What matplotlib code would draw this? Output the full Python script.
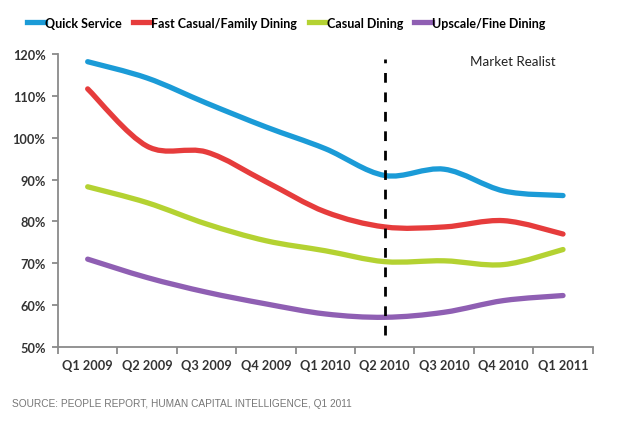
import numpy as np
import matplotlib.pyplot as plt
from matplotlib.path import Path
from matplotlib.patches import PathPatch
from matplotlib.lines import Line2D

quarters = ['Q1 2009', 'Q2 2009', 'Q3 2009', 'Q4 2009', 'Q1 2010',
            'Q2 2010', 'Q3 2010', 'Q4 2010', 'Q1 2011']
quick = [118.2, 114.3, 108.3, 102.6, 97.4, 91.0, 92.5, 87.3, 86.2]
fast = [111.7, 98.0, 96.6, 89.5, 82.3, 78.7, 78.7, 80.2, 77.0]
casual = [88.3, 84.5, 79.4, 75.4, 73.0, 70.4, 70.6, 69.7, 73.3]
upscale = [71.0, 66.6, 63.1, 60.3, 57.9, 57.1, 58.3, 61.1, 62.3]
names = ['Quick Service', 'Fast Casual/Family Dining', 'Casual Dining', 'Upscale/Fine Dining']
colors = ['#1b9bd7', '#e63c3c', '#b4d232', '#8f5fb3']
y_ticks = [50, 60, 70, 80, 90, 100, 110, 120]


def smooth_path(x, y):
    # Excel-like smoothed line: Catmull-Rom turned into cubic Bezier segments
    pts = np.column_stack([x, y]).astype(float)
    verts = [pts[0]]
    codes = [Path.MOVETO]
    n = len(pts)
    for i in range(n - 1):
        p0 = pts[i - 1] if i > 0 else pts[i]
        p1 = pts[i]
        p2 = pts[i + 1]
        p3 = pts[i + 2] if i + 2 < n else pts[i + 1]
        c1 = p1 + (p2 - p0) / 6.0
        c2 = p2 - (p3 - p1) / 6.0
        verts += [c1, c2, p2]
        codes += [Path.CURVE4] * 3
    return Path(verts, codes)


fig = plt.figure(figsize=(6.2, 4.31), dpi=100)
ax = fig.add_axes([0.0935, 0.1926, 0.8625, 0.6794])

x = np.arange(len(quarters))
for vals, c in zip([quick, fast, casual, upscale], colors):
    p = PathPatch(smooth_path(x, vals), facecolor='none', edgecolor=c,
                  lw=3.8, capstyle='round', joinstyle='round')
    ax.add_patch(p)

ax.axvline(5, ymin=0.04, ymax=0.985, color='black', lw=2, ls=(0, (3.5, 3.5)))

ax.set_xlim(-0.5, 8.5)
ax.set_ylim(50, 120)
ax.set_yticks(y_ticks)
ax.set_yticklabels(['%d%%' % v for v in y_ticks])
ax.set_xticks(x)
ax.set_xticklabels(quarters)
ax.set_xticks(np.arange(-0.5, 9, 1), minor=True)

for s in ['top', 'right']:
    ax.spines[s].set_visible(False)
for s in ['left', 'bottom']:
    ax.spines[s].set_color('#8a8a8a')
    ax.spines[s].set_linewidth(1.3)

ax.tick_params(axis='x', which='major', length=0, pad=9)
ax.tick_params(axis='x', which='minor', length=5, color='#8a8a8a', width=1.3)
ax.tick_params(axis='y', length=4, color='#8a8a8a', width=1.3, pad=5)
for lab in ax.get_xticklabels() + ax.get_yticklabels():
    lab.set_fontfamily('Lato')
    lab.set_fontweight('bold')
    lab.set_fontsize(9.2)
    lab.set_color('#333333')

handles = [Line2D([], [], color=c, lw=3.8) for c in colors]
fig.legend(handles, names, loc='upper center', bbox_to_anchor=(0.462, 0.985),
           ncol=4, frameon=False, handlelength=1.4, handletextpad=0.05,
           columnspacing=0.9, prop={'family': 'Lato', 'weight': 'bold', 'size': 9.0})

fig.text(0.758, 0.848, 'Market Realist', fontsize=9.6, family='Lato', color='#222222')
fig.text(0.019, 0.055, 'SOURCE: PEOPLE REPORT, HUMAN CAPITAL INTELLIGENCE, Q1 2011',
         fontsize=7.3, family='Liberation Sans', color='#777777')

fig.savefig('out.png', dpi=100)
